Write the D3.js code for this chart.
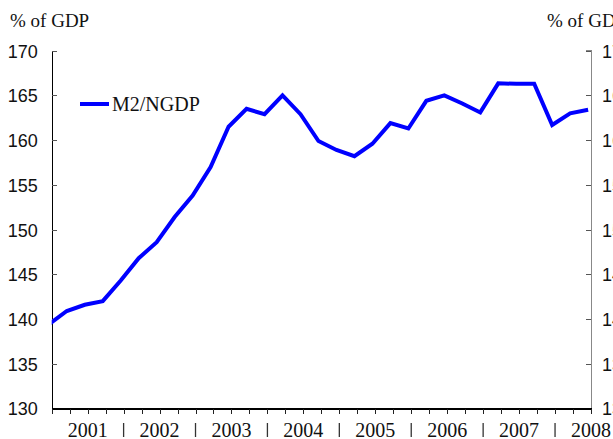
<!DOCTYPE html>
<html>
<head>
<meta charset="utf-8">
<script src="https://cdn.jsdelivr.net/npm/d3@7"></script>
<style>
  body { margin: 0; background: #fff; }
  svg { display: block; font-family: "Liberation Serif", "Times New Roman", serif; }
  .axis path, .axis line { shape-rendering: crispEdges; }
</style>
</head>
<body>
<div id="chart"></div>
<script>
// quarterly observations, 2001Q1 .. 2008Q3
const quarters = [
    "2001Q1", "2001Q2", "2001Q3", "2001Q4",
    "2002Q1", "2002Q2", "2002Q3", "2002Q4",
    "2003Q1", "2003Q2", "2003Q3", "2003Q4",
    "2004Q1", "2004Q2", "2004Q3", "2004Q4",
    "2005Q1", "2005Q2", "2005Q3", "2005Q4",
    "2006Q1", "2006Q2", "2006Q3", "2006Q4",
    "2007Q1", "2007Q2", "2007Q3", "2007Q4",
    "2008Q1", "2008Q2", "2008Q3"
];
const m2ngdp = [
    139.4, 140.9, 141.6, 142.0,
    144.3, 146.8, 148.6, 151.4,
    153.8, 157.0, 161.5, 163.5,
    162.9, 165.0, 162.9, 159.9,
    158.9, 158.2, 159.6, 161.9,
    161.3, 164.4, 165.0, 164.1,
    163.1, 166.35, 166.3, 166.3,
    161.7, 163.0, 163.4
];
const years = ["2001", "2002", "2003", "2004", "2005", "2006", "2007", "2008"];
const yTicks = [130, 135, 140, 145, 150, 155, 160, 165, 170];
const seriesName = "M2/NGDP";
const unitLabel = "% of GDP";

const width = 613, height = 439;
const plot = { left: 51.7, right: 591, top: 50.7, bottom: 408.5 };
const pointShift = -0.16; // observations sit a little before the quarter ticks

const svg = d3.select("#chart").append("svg")
    .attr("width", width)
    .attr("height", height);

const x = d3.scaleLinear()
    .domain([0, quarters.length - 1])
    .range([plot.left, plot.right]);

const y = d3.scaleLinear()
    .domain([130, 170])
    .range([plot.bottom, plot.top]);

// left axis
const leftAxis = svg.append("g")
    .attr("class", "axis")
    .attr("transform", `translate(${plot.left},0)`)
    .call(d3.axisLeft(y).tickValues(yTicks).tickSize(-5).tickPadding(14).tickFormat(d3.format("d")));
leftAxis.select(".domain").attr("stroke", "#000").attr("stroke-width", 1.3);
leftAxis.selectAll(".tick line").attr("stroke", "#555");
leftAxis.selectAll("text").attr("font-size", 18).attr("fill", "#111").attr("dy", "0.36em");

// right axis (labels run off the page edge)
const rightAxis = svg.append("g")
    .attr("class", "axis")
    .attr("transform", `translate(${plot.right},0)`)
    .call(d3.axisRight(y).tickValues(yTicks).tickSize(-5).tickPadding(11).tickFormat(d3.format("d")));
rightAxis.select(".domain").attr("stroke", "#888").attr("stroke-width", 1.5);
rightAxis.selectAll(".tick line").attr("stroke", "#555");
rightAxis.selectAll("text").attr("font-size", 18).attr("fill", "#111").attr("dy", "0.36em");

// bottom axis: one tick per quarter
const bottomAxis = svg.append("g")
    .attr("class", "axis")
    .attr("transform", `translate(0,${plot.bottom})`)
    .call(d3.axisBottom(x).tickValues(d3.range(quarters.length)).tickSize(5).tickFormat(""));
bottomAxis.select(".domain").attr("stroke", "#000").attr("stroke-width", 1.3);
bottomAxis.selectAll(".tick line").attr("stroke", "#222");

// year labels centred on each year, separators between them
svg.append("g").selectAll("text")
    .data(years)
    .join("text")
    .attr("x", (d, i) => x(i * 4 + 2))
    .attr("y", 437)
    .attr("text-anchor", "middle")
    .attr("font-size", 20)
    .attr("fill", "#111")
    .text(d => d);

svg.append("g").selectAll("line")
    .data(years.slice(1))
    .join("line")
    .attr("x1", (d, i) => x((i + 1) * 4))
    .attr("x2", (d, i) => x((i + 1) * 4))
    .attr("y1", 423)
    .attr("y2", 437)
    .attr("stroke", "#333")
    .attr("stroke-width", 1.3);

// unit labels
svg.append("text")
    .attr("x", 10).attr("y", 27)
    .attr("font-size", 19).attr("fill", "#111")
    .text(unitLabel);
svg.append("text")
    .attr("x", 547).attr("y", 27)
    .attr("font-size", 19).attr("fill", "#111")
    .text(unitLabel);

// series
svg.append("clipPath").attr("id", "plot-clip")
    .append("rect")
    .attr("x", plot.left).attr("y", 0)
    .attr("width", plot.right - plot.left).attr("height", height);

const line = d3.line()
    .x((d, i) => x(i + pointShift))
    .y(d => y(d));

svg.append("path")
    .datum(m2ngdp)
    .attr("clip-path", "url(#plot-clip)")
    .attr("fill", "none")
    .attr("stroke", "#0000ff")
    .attr("stroke-width", 4)
    .attr("d", line);

// legend
const legend = svg.append("g").attr("transform", "translate(80,104)");
legend.append("line")
    .attr("x1", 0).attr("x2", 29)
    .attr("stroke", "#0000ff").attr("stroke-width", 4);
legend.append("text")
    .attr("x", 32).attr("dy", "0.35em")
    .attr("font-size", 20).attr("fill", "#111")
    .text(seriesName);
</script>
</body>
</html>
